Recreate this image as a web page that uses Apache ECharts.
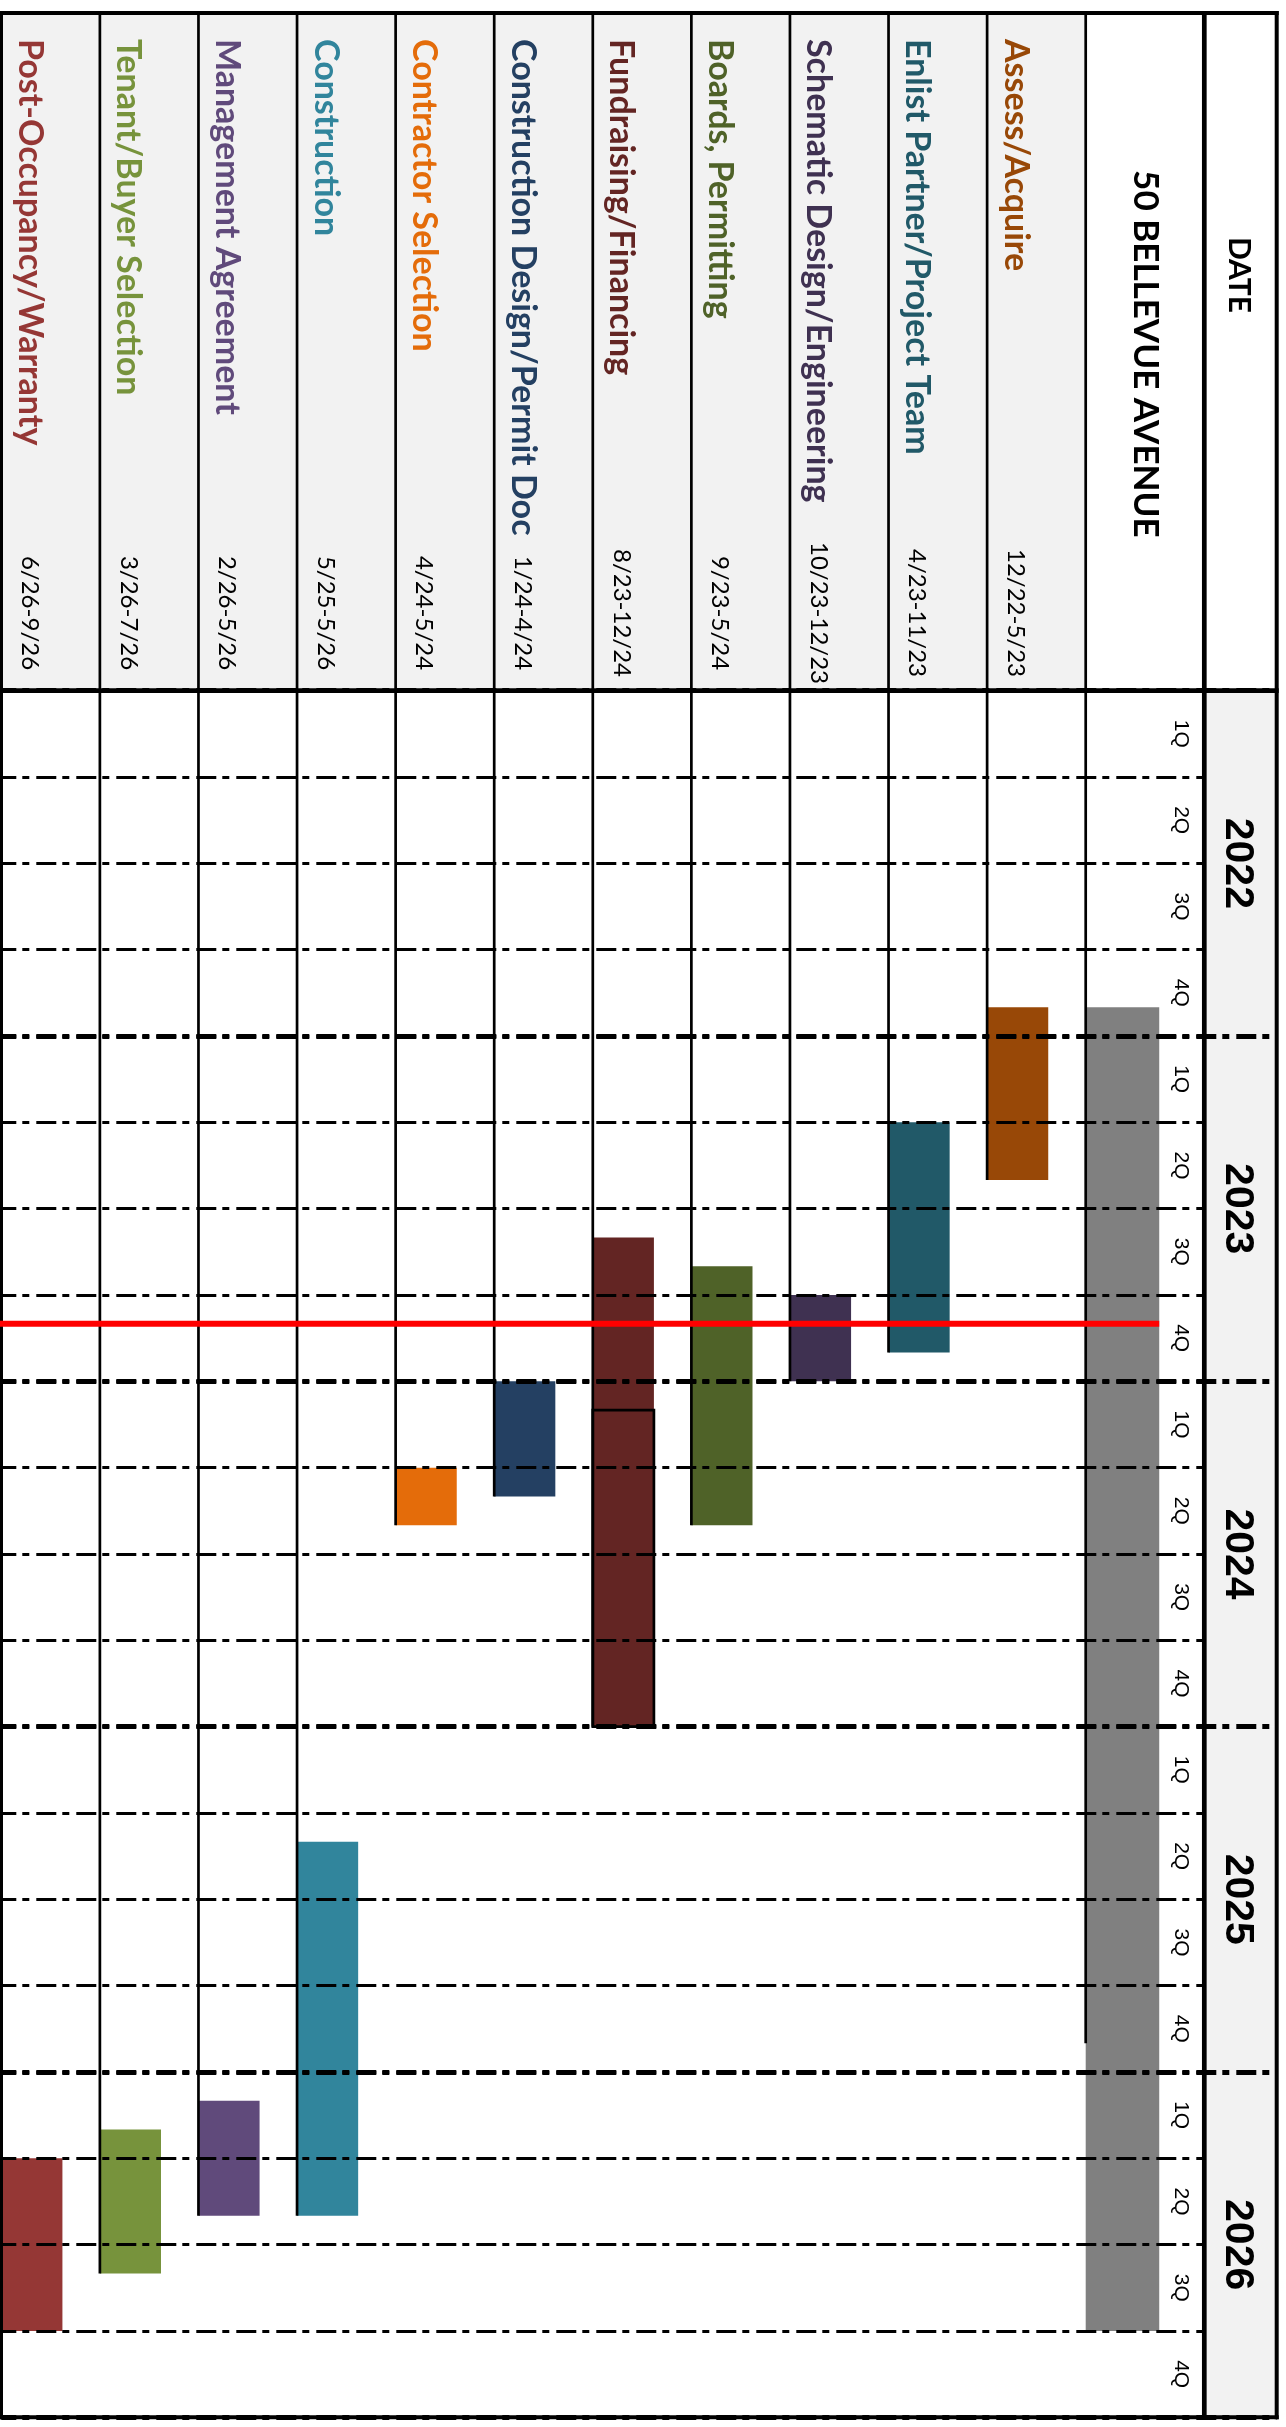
<!DOCTYPE html>
<html>
<head>
<meta charset="utf-8">
<title>50 Bellevue Avenue – Schedule</title>
<script src="https://cdn.jsdelivr.net/npm/echarts@6/dist/echarts.min.js"></script>
<style>
  html, body { margin: 0; padding: 0; background: #ffffff; }
  #chart { width: 1286px; height: 2427px; }
</style>
</head>
<body>
<div id="chart"></div>
<script>
// ---- schedule data -------------------------------------------------------
const tasks = [
  'Assess/Acquire',
  'Enlist Partner/Project Team',
  'Schematic Design/Engineering',
  'Boards, Permitting',
  'Fundraising/Financing',
  'Construction Design/Permit Docs',
  'Contractor Selection',
  'Construction',
  'Management Agreement',
  'Tenant/Buyer Selection',
  'Post-Occupancy/Warranty'
];
const dateRanges = [
  '12/22-5/23', '4/23-11/23', '10/23-12/23', '9/23-5/24', '8/23-12/24',
  '1/24-4/24', '4/24-5/24', '5/25-5/26', '2/26-5/26', '3/26-7/26', '6/26-9/26'
];
// first and last month of each bar (inclusive)
const startMonths = [
  '2022-12', '2023-04', '2023-10', '2023-09', '2023-08',
  '2024-01', '2024-04', '2025-05', '2026-02', '2026-03', '2026-04'
];
const endMonths = [
  '2023-05', '2023-11', '2023-12', '2024-05', '2024-12',
  '2024-04', '2024-05', '2026-05', '2026-05', '2026-07', '2026-09'
];
// second (outlined) phase of the financing work
const financingPhase2 = ['2024-02', '2024-12'];

const projectName = '50 BELLEVUE AVENUE';
const projectSpan = ['2022-12', '2026-09'];
const projectGuideEnd = '2025-11';
const todayMonth = '2023-11';

const years = ['2022', '2023', '2024', '2025', '2026'];
const quarters = ['1Q', '2Q', '3Q', '4Q'];

// ---- styling ---------------------------------------------------------------
const taskColors = ['#984807', '#215968', '#3F3151', '#4F6228', '#632523',
  '#244062', '#E46C0A', '#31859C', '#604A7B', '#77933C', '#953735'];
const HEADER_FILL = '#F2F2F2';
const LINE_W = 2.7;
const BAR_RATIO = 0.62;

// page layout (px)
const FRAME_TOP = 13;
const HEAD_BOTTOM = 690.7;
const FRAME_BOTTOM = 2417.3;
const FRAME_LEFT = 1.3;
const TASK_RIGHT = 1085.7;
const PROJECT_RIGHT = 1204.3;
const FRAME_RIGHT = 1276.7;
const NAME_START = 39;
const NAME_MAX = 506;
const DATE_CENTER = 613;
const TEXT_INSET = 28.5;

const FIRST_YEAR = Number(years[0]);
const TOTAL_MONTHS = years.length * 12;
function monthIndex(s) {
  const [y, m] = s.split('-').map(Number);
  return (y - FIRST_YEAR) * 12 + (m - 1);
}

const gridTop = HEAD_BOTTOM;
const gridHeight = FRAME_BOTTOM - HEAD_BOTTOM;

const chart = echarts.init(document.getElementById('chart'), null, { renderer: 'canvas' });

function monthAxis(gridIndex, extra) {
  return Object.assign({
    type: 'value', gridIndex: gridIndex, min: 0, max: TOTAL_MONTHS, inverse: true, show: false
  }, extra || {});
}
const dashLine = (w) => ({
  show: true,
  lineStyle: { color: '#000', width: w, type: [20, 6, 7, 7], dashOffset: 5 }
});

// ---- series renderers ----------------------------------------------------
function renderTask(params, api) {
  const i = params.dataIndex;
  const color = taskColors[i];
  const band = api.size([1, 0])[0];
  const pStart = api.coord([api.value(0), api.value(1)]);
  const pEnd = api.coord([api.value(0), api.value(2)]);
  const x0 = pStart[0] - band / 2;
  const barW = band * BAR_RATIO;
  const cs = params.coordSys;
  const children = [
    { type: 'rect', z2: 0,
      shape: { x: x0, y: FRAME_TOP, width: band, height: cs.y - FRAME_TOP },
      style: { fill: HEADER_FILL } },
    { type: 'rect', z2: 1,
      shape: { x: x0, y: pStart[1], width: barW, height: pEnd[1] - pStart[1] },
      style: { fill: color } }
  ];
  if (tasks[i] === 'Fundraising/Financing') {
    const a = api.coord([api.value(0), monthIndex(financingPhase2[0])]);
    const b = api.coord([api.value(0), monthIndex(financingPhase2[1]) + 1]);
    children.push({ type: 'rect', z2: 2,
      shape: { x: x0, y: a[1], width: barW, height: b[1] - a[1] },
      style: { fill: color, stroke: '#000', lineWidth: LINE_W } });
  }
  children.push(
    { type: 'line', z2: 3,
      shape: { x1: x0, y1: FRAME_TOP, x2: x0, y2: pEnd[1] },
      style: { stroke: '#000', lineWidth: LINE_W } },
    { type: 'text', z2: 4, x: x0 + TEXT_INSET, y: NAME_START, rotation: -Math.PI / 2,
      style: { text: tasks[i], font: 'bold 34px Lato', fill: color,
        align: 'left', verticalAlign: 'middle',
        width: NAME_MAX, overflow: 'truncate', ellipsis: '' } },
    { type: 'text', z2: 4, x: x0 + TEXT_INSET, y: DATE_CENTER, rotation: -Math.PI / 2,
      style: { text: dateRanges[i], font: '24px Lato', fill: '#000',
        align: 'center', verticalAlign: 'middle' } }
  );
  return { type: 'group', children: children };
}

function renderProject(params, api) {
  const band = api.size([1, 0])[0];
  const pStart = api.coord([0, api.value(1)]);
  const pEnd = api.coord([0, api.value(2)]);
  const pGuide = api.coord([0, api.value(3)]);
  const x0 = pStart[0] - band / 2;
  return { type: 'group', children: [
    { type: 'rect', z2: 1,
      shape: { x: x0, y: pStart[1], width: band * BAR_RATIO, height: pEnd[1] - pStart[1] },
      style: { fill: '#808080' } },
    { type: 'line', z2: 3,
      shape: { x1: x0, y1: FRAME_TOP, x2: x0, y2: pGuide[1] },
      style: { stroke: '#000', lineWidth: LINE_W } },
    { type: 'text', z2: 4, x: x0 + band / 2, y: (FRAME_TOP + HEAD_BOTTOM) / 2 + 2,
      rotation: -Math.PI / 2,
      style: { text: projectName, font: 'bold 35px Lato', fill: '#000',
        align: 'center', verticalAlign: 'middle' } }
  ] };
}

function renderQuarter(params, api) {
  const cs = params.coordSys;
  const p = api.coord([0, api.value(1)]);
  return { type: 'text', x: cs.x + cs.width - 24, y: p[1], rotation: -Math.PI / 2,
    style: { text: quarters[params.dataIndex % quarters.length],
      font: '21px "Liberation Sans"', fill: '#000', align: 'center', verticalAlign: 'middle' } };
}

function renderYear(params, api) {
  const cs = params.coordSys;
  const a = api.coord([0, api.value(1)]);
  const b = api.coord([0, api.value(2)]);
  return { type: 'group', children: [
    { type: 'rect', shape: { x: cs.x, y: a[1], width: cs.width, height: b[1] - a[1] },
      style: { fill: HEADER_FILL } },
    { type: 'text', x: cs.x + cs.width / 2 - 3, y: (a[1] + b[1]) / 2, rotation: -Math.PI / 2,
      style: { text: years[params.dataIndex], font: 'bold 41px "Liberation Sans"', fill: '#000',
        align: 'center', verticalAlign: 'middle' } }
  ] };
}

function renderToday(params, api) {
  const band = api.size([1, 0])[0];
  const p = api.coord([0, api.value(1)]);
  const x0 = p[0] - band / 2;
  return { type: 'line',
    shape: { x1: 0, y1: p[1], x2: x0 + band * BAR_RATIO, y2: p[1] },
    style: { stroke: '#FF0000', lineWidth: 6 } };
}

// ---- data for the series --------------------------------------------------
const taskData = tasks.map((t, i) => [i, monthIndex(startMonths[i]), monthIndex(endMonths[i]) + 1]);
const projectData = [[0, monthIndex(projectSpan[0]), monthIndex(projectSpan[1]) + 1, monthIndex(projectGuideEnd) + 1]];
const quarterData = [];
years.forEach((y, yi) => quarters.forEach((q, qi) => quarterData.push([0, yi * 12 + qi * 3 + 1.5])));
const yearData = years.map((y, i) => [0, i * 12, i * 12 + 12]);

const line = (x1, y1, x2, y2, w) => ({
  type: 'line', z: 15, shape: { x1, y1, x2, y2 }, style: { stroke: '#000', lineWidth: w }
});

chart.setOption({
  animation: false,
  backgroundColor: '#ffffff',
  grid: [
    { left: FRAME_LEFT, top: gridTop, width: TASK_RIGHT - FRAME_LEFT, height: gridHeight },
    { left: TASK_RIGHT, top: gridTop, width: PROJECT_RIGHT - TASK_RIGHT, height: gridHeight },
    { left: PROJECT_RIGHT, top: gridTop, width: FRAME_RIGHT - PROJECT_RIGHT, height: gridHeight },
    { left: FRAME_LEFT, top: gridTop, width: PROJECT_RIGHT - FRAME_LEFT, height: gridHeight },
    { left: FRAME_LEFT, top: gridTop, width: FRAME_RIGHT - FRAME_LEFT, height: gridHeight }
  ],
  xAxis: [
    { type: 'category', gridIndex: 0, data: tasks, inverse: true, show: false },
    { type: 'category', gridIndex: 1, data: [projectName], show: false },
    { type: 'category', gridIndex: 2, data: ['year'], show: false },
    { type: 'value', gridIndex: 3, show: false },
    { type: 'value', gridIndex: 4, show: false }
  ],
  yAxis: [
    monthAxis(0),
    monthAxis(1),
    monthAxis(2),
    monthAxis(3, { show: true, interval: 3, z: 10,
      axisLine: { show: false }, axisTick: { show: false }, axisLabel: { show: false },
      splitLine: dashLine(3) }),
    monthAxis(4, { show: true, interval: 12, z: 11,
      axisLine: { show: false }, axisTick: { show: false }, axisLabel: { show: false },
      splitLine: dashLine(5) })
  ],
  series: [
    { type: 'custom', name: 'Tasks', xAxisIndex: 0, yAxisIndex: 0, clip: false, z: 2,
      encode: { x: 0, y: [1, 2] }, renderItem: renderTask, data: taskData },
    { type: 'custom', name: projectName, xAxisIndex: 1, yAxisIndex: 1, clip: false, z: 2,
      encode: { x: 0, y: [1, 2] }, renderItem: renderProject, data: projectData },
    { type: 'custom', name: 'Quarters', xAxisIndex: 1, yAxisIndex: 1, clip: false, z: 3,
      encode: { x: 0, y: 1 }, renderItem: renderQuarter, data: quarterData },
    { type: 'custom', name: 'Years', xAxisIndex: 2, yAxisIndex: 2, clip: false, z: 2,
      encode: { x: 0, y: [1, 2] }, renderItem: renderYear, data: yearData },
    { type: 'custom', name: 'Today', xAxisIndex: 1, yAxisIndex: 1, clip: false, z: 20,
      encode: { x: 0, y: 1 }, renderItem: renderToday, data: [[0, monthIndex(todayMonth)]] }
  ],
  graphic: [
    line(0, FRAME_TOP, FRAME_RIGHT + 2, FRAME_TOP, 4),
    line(0, HEAD_BOTTOM, FRAME_RIGHT + 2, HEAD_BOTTOM, 4.7),
    line(0, FRAME_BOTTOM, FRAME_RIGHT + 2, FRAME_BOTTOM, 4),
    line(FRAME_LEFT + 0.2, FRAME_TOP - 2, FRAME_LEFT + 0.2, FRAME_BOTTOM + 2, 3),
    line(FRAME_RIGHT, FRAME_TOP - 2, FRAME_RIGHT, FRAME_BOTTOM + 2, 4),
    line(PROJECT_RIGHT, FRAME_TOP - 2, PROJECT_RIGHT, FRAME_BOTTOM + 2, 4.7),
    { type: 'text', z: 15, x: 1238.5, y: 275, rotation: -Math.PI / 2,
      style: { text: 'DATE', font: 'bold 30px Lato', fill: '#000', align: 'center', verticalAlign: 'middle' } }
  ]
});
</script>
</body>
</html>
